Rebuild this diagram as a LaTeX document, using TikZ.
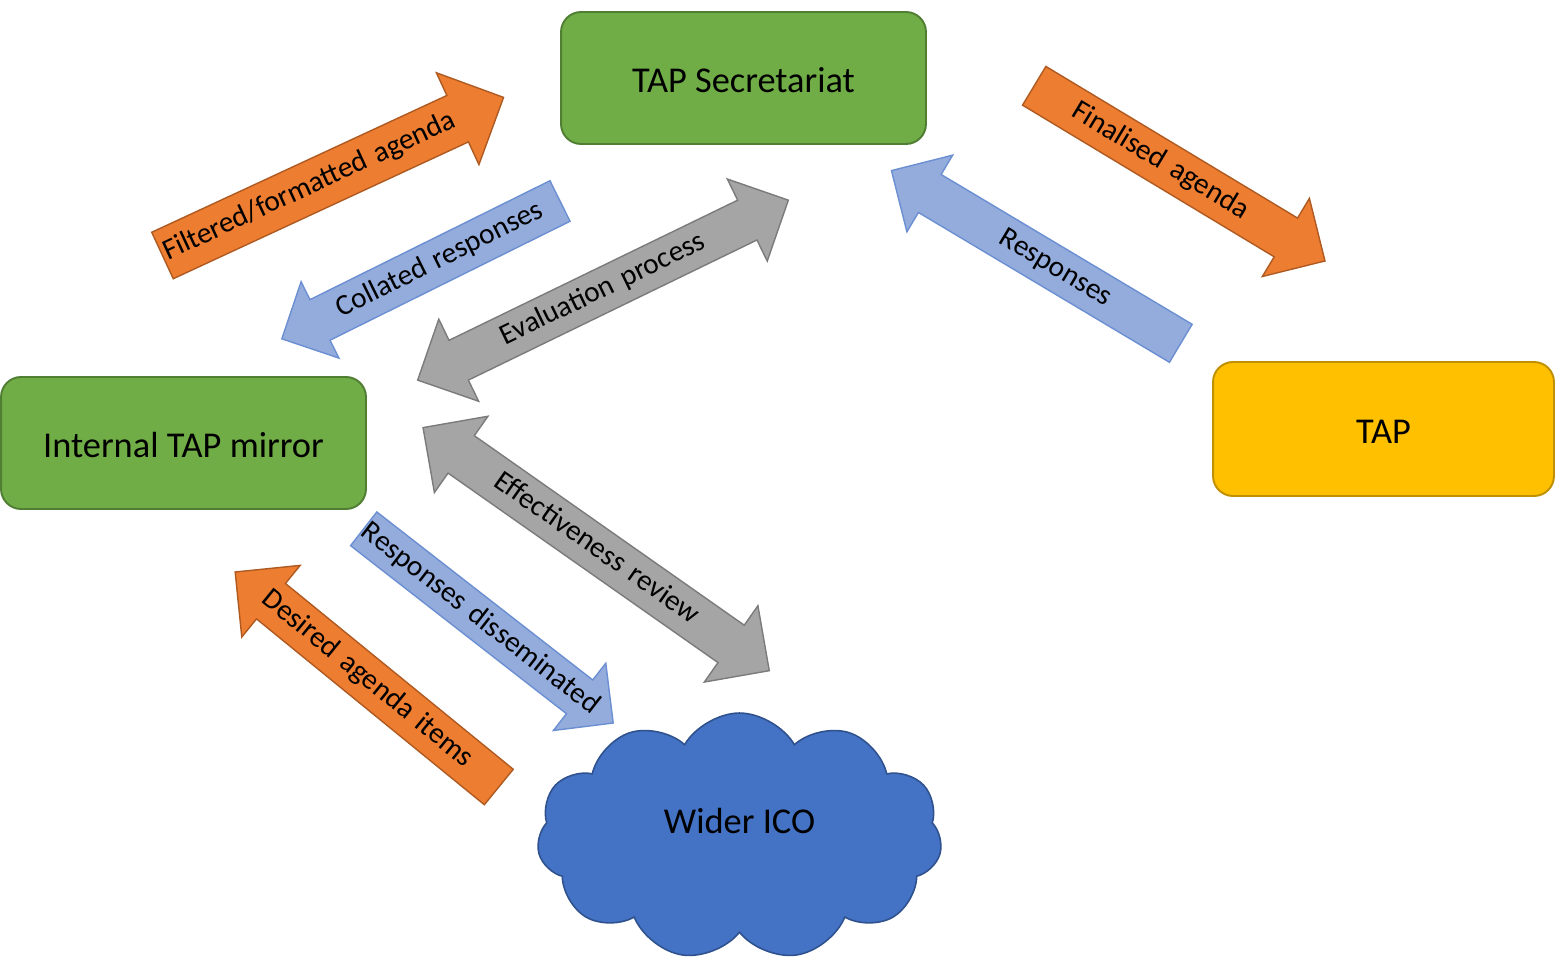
\documentclass[tikz,border=0pt]{standalone}
\usepackage{fontspec}
\setmainfont{Carlito}
\usetikzlibrary{shapes.arrows,shapes.symbols}

\definecolor{partygreen}{HTML}{70AD47}
\definecolor{partygreenline}{HTML}{507E32}
\definecolor{tapyellow}{HTML}{FFC000}
\definecolor{tapyellowline}{HTML}{BF9000}
\definecolor{icoblue}{HTML}{4472C4}
\definecolor{icoblueline}{HTML}{2F528F}
\definecolor{agendaorange}{HTML}{ED7D31}
\definecolor{agendaorangeline}{HTML}{AE5A21}
\definecolor{evalgrey}{HTML}{A5A5A5}
\definecolor{evalgreyline}{HTML}{7B7B7B}
\definecolor{replyblue}{HTML}{94ACDC}
\definecolor{replyblueline}{HTML}{6B8FD2}

\begin{document}
\begin{tikzpicture}[x=0.02cm, y=-0.02cm,
  every node/.style={font=\fontsize{16.7}{20}\selectfont},
  party/.style={rectangle, rounded corners=0.4cm, line width=1.1pt, minimum width=7.3cm,
    minimum height=2.64cm, text height=18pt, text depth=2pt, font=\fontsize{20.7}{25}\selectfont},
  flow/.style={single arrow, line width=0.8pt, inner xsep=0pt, outer sep=0pt,
    text height=12pt, text depth=4pt, align=center, anchor=tail},
  twoway/.style={double arrow, line width=0.8pt, fill=evalgrey, draw=evalgreyline,
    inner xsep=0pt, outer sep=0pt, text height=12pt, text depth=4pt, align=center},
  agenda/.style={flow, fill=agendaorange, draw=agendaorangeline},
  reply/.style={flow, fill=replyblue, draw=replyblueline},
  back/.style={shape border rotate=180}]
  \useasboundingbox (0,0) rectangle (1555,962);

  % the four parties
  \node[party, fill=partygreen, draw=partygreenline] (sec) at (743.5,78) {TAP Secretariat};
  \node[party, fill=partygreen, draw=partygreenline] (mirror) at (183.5,443) {Internal TAP mirror};
  \node[party, fill=tapyellow, draw=tapyellowline, minimum width=6.82cm, minimum height=2.68cm] (tap) at (1383.5,429) {TAP};
  \node[cloud, cloud puffs=11, cloud puff arc=120, aspect=1.64, fill=icoblue, draw=icoblueline,
    line width=0.9pt, minimum width=8.1cm, minimum height=4.94cm, font=\fontsize{20.7}{25}\selectfont,
    text height=14pt, text depth=17pt] (ico) at (739.5,836.5) {Wider ICO};

  % agenda
  \node[agenda, rotate=24.87, text width=6.98cm, inner ysep=6.17pt, single arrow head extend=0.5cm] (filtered) at (162.5,255.5) {\hspace*{-0.5cm}\mbox{Filtered/formatted agenda}};
  \node[agenda, rotate=-31.07, text width=6.31cm, inner ysep=4.47pt, single arrow head extend=0.46cm] (finalised) at (1034.2,85.8) {\hspace*{-0.46cm}Finalised agenda};
  \node[agenda, back, align=left, rotate=-39.2, text width=6.32cm, inner ysep=4.61pt, single arrow head extend=0.467cm] (desired) at (498.8,787) {\hspace*{0.3cm}Desired agenda items};

  % responses
  \node[reply, back, rotate=26.36, text width=5.73cm, inner ysep=4.47pt, single arrow head extend=0.4cm] (collated) at (560,201) {\hspace*{0.4cm}Collated responses};
  \node[reply, back, rotate=-30.83, text width=6.27cm, inner ysep=4.19pt, single arrow head extend=0.45cm] (responses) at (1180.8,343.3) {\hspace*{0.45cm}Responses};
  \node[reply, rotate=-37.9, text width=5.87cm, inner ysep=3.76pt, single arrow head extend=0.425cm] (disseminated) at (363.7,528.8) {\makebox[\linewidth][l]{Responses disseminated}};

  % evaluation both ways
  \node[twoway, rotate=25.9, text width=7.33cm, inner ysep=4.19pt, double arrow head extend=0.47cm] (evaluation) at (603,290.15) {Evaluation process};
  \node[twoway, rotate=-35.07, text width=7.52cm, inner ysep=4.61pt, double arrow head extend=0.475cm] (review) at (596.15,549.15) {Effectiveness review};
\end{tikzpicture}
\end{document}
